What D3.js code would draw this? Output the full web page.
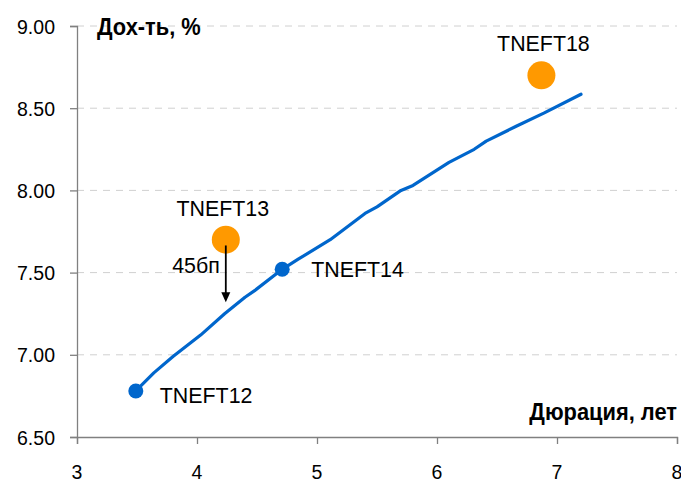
<!DOCTYPE html>
<html>
<head>
<meta charset="utf-8">
<script src="https://cdn.jsdelivr.net/npm/d3@7"></script>
<style>
  body { margin: 0; background: #fff; }
  text { font-family: "Liberation Sans", Arial, sans-serif; fill: #000; }
</style>
</head>
<body>
<div id="plot"></div>
<script>
// curve values (duration, yield)
const curveDur = [3.49, 3.64, 3.80, 4.03, 4.23, 4.40, 4.48, 4.71, 4.84, 5.11, 5.40, 5.50, 5.70, 5.80, 6.10, 6.31, 6.41, 6.66, 6.89, 7.20];
const curveYld = [6.78, 6.89, 6.99, 7.12, 7.25, 7.35, 7.39, 7.52, 7.58, 7.70, 7.86, 7.90, 8.00, 8.03, 8.17, 8.25, 8.30, 8.39, 8.47, 8.585];

const blueNames = ["TNEFT12", "TNEFT14"];
const blueDur = [3.49, 4.71];
const blueYld = [6.78, 7.52];

const orangeNames = ["TNEFT13", "TNEFT18"];
const orangeDur = [4.24, 6.87];
const orangeYld = [7.70, 8.70];

const arrowDur = 4.24;
const arrowFrom = 7.665, arrowTo = 7.32;
const arrowLabel = "45бп";

const xTicks = [3, 4, 5, 6, 7, 8];
const yTicks = [6.5, 7.0, 7.5, 8.0, 8.5, 9.0];

const yTitle = "Дох-ть, %";
const xTitle = "Дюрация, лет";

const width = 681, height = 483;
const blue = "#0066cc", orange = "#ff9900";
const sx = 0.93; // horizontal squeeze of text

const x = d3.scaleLinear().domain([3, 8]).range([77, 677]);
const y = d3.scaleLinear().domain([6.5, 9]).range([437, 26]);

const svg = d3.select("#plot").append("svg")
  .attr("width", width).attr("height", height);

// squeezed text helper
function label(g, px, py, str, size, anchor, weight){
  return g.append("text")
    .attr("transform", `translate(${px},${py}) scale(${sx},1)`)
    .attr("text-anchor", anchor || "start")
    .attr("font-size", size)
    .attr("font-weight", weight || "normal")
    .text(str);
}

// gridlines
svg.append("g").selectAll("line")
  .data(yTicks.filter(d => d > 6.5))
  .join("line")
  .attr("x1", x(3)).attr("x2", x(8))
  .attr("y1", d => y(d)).attr("y2", d => y(d))
  .attr("stroke", "#d0d0d0").attr("stroke-width", 1)
  .attr("stroke-dasharray", "7,6");

// axes
const yAxis = svg.append("g")
  .attr("transform", `translate(${x(3)},0)`)
  .call(d3.axisLeft(y).tickValues(yTicks).tickSize(7).tickFormat(""));
const xAxis = svg.append("g")
  .attr("transform", `translate(0,${y(6.5)})`)
  .call(d3.axisBottom(x).tickValues(xTicks).tickSize(7).tickFormat(""));
[yAxis, xAxis].forEach(a => {
  a.selectAll("path, line").attr("stroke", "#808080").attr("stroke-width", 1.3);
});

const tl = svg.append("g");
yTicks.forEach(v => label(tl, 55, y(v) + 7.5, d3.format(".2f")(v), 21, "end"));
xTicks.forEach(v => label(tl, x(v), 479, String(v), 21, "middle"));

// axis titles
label(svg, 97, 35, yTitle, 23.5, "start", "bold");
label(svg, 677, 420, xTitle, 23.5, "end", "bold");

// curve
const pts = curveDur.map((d, i) => [d, curveYld[i]]);
svg.append("path")
  .datum(pts)
  .attr("fill", "none")
  .attr("stroke", blue)
  .attr("stroke-width", 3.2)
  .attr("stroke-linejoin", "round")
  .attr("stroke-linecap", "round")
  .attr("d", d3.line().x(d => x(d[0])).y(d => y(d[1])));

// blue points
blueNames.forEach((n, i) => {
  svg.append("circle")
    .attr("cx", x(blueDur[i])).attr("cy", y(blueYld[i]))
    .attr("r", 7.5).attr("fill", blue);
  label(svg, x(blueDur[i]) + (i === 0 ? 24 : 29), y(blueYld[i]) + (i === 0 ? 12 : 7.5), n, 23);
});

// orange points
orangeNames.forEach((n, i) => {
  svg.append("circle")
    .attr("cx", x(orangeDur[i])).attr("cy", y(orangeYld[i]))
    .attr("r", 14).attr("fill", orange);
  label(svg, x(orangeDur[i]) + (i === 0 ? -3 : 2), y(orangeYld[i]) - 24, n, 23, "middle");
});

// arrow
const ax = x(arrowDur), ay1 = y(arrowFrom), ay2 = y(arrowTo);
svg.append("line")
  .attr("x1", ax).attr("x2", ax)
  .attr("y1", ay1).attr("y2", ay2 - 9)
  .attr("stroke", "#000").attr("stroke-width", 1.8);
svg.append("path")
  .attr("d", `M${ax - 4.5},${ay2 - 10} L${ax + 4.5},${ay2 - 10} L${ax},${ay2} Z`)
  .attr("fill", "#000");
label(svg, ax - 6, y(arrowFrom) + 28, arrowLabel, 23, "end");
</script>
</body>
</html>
